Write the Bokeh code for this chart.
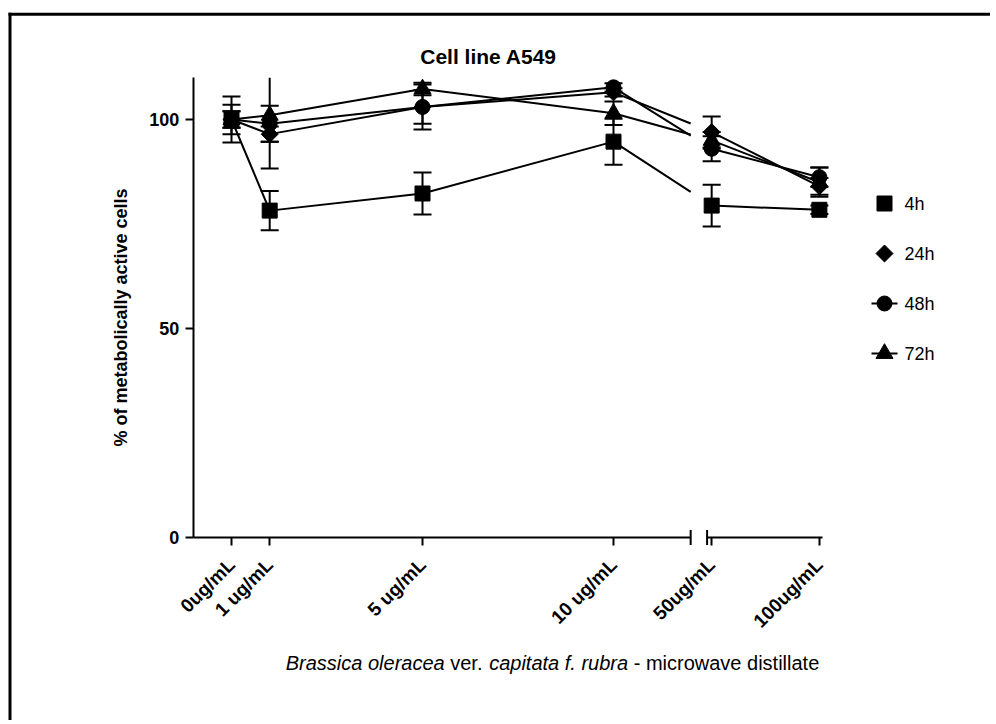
import numpy as np
from bokeh.plotting import figure
from bokeh.models import Range1d, FixedTicker, Label, LinearAxis
from bokeh.embed import file_html
from bokeh.resources import INLINE

# ---------------- data ----------------
concentrations = [0, 1, 5, 10, 50, 100]
tick_labels = ["0ug/mL", "1 ug/mL", "5 ug/mL", "10 ug/mL", "50ug/mL", "100ug/mL"]
series_names = ["4h", "24h", "48h", "72h"]
mean_4h = [100.0, 78.2, 82.3, 94.7, 79.4, 78.4]
sd_4h = [2.0, 4.7, 5.0, 5.5, 5.0, 1.0]
mean_24h = [100.0, 96.5, 103.0, 106.5, 97.0, 84.0]
sd_24h = [3.5, 1.8, 4.0, 1.0, 3.7, 2.0]
mean_48h = [100.0, 99.0, 103.0, 107.7, 93.0, 86.2]
sd_48h = [5.5, 4.3, 5.4, 1.0, 3.0, 2.3]
mean_72h = [100.0, 101.0, 107.3, 101.5, 95.0, 85.0]
sd_72h = [2.0, 12.7, 1.5, 2.8, 2.0, 3.5]
y_ticks = [0, 50, 100]

title_text = "Cell line A549"
y_title = "% of metabolically active cells"
x_title_parts = [("Brassica oleracea", "italic"), ("ver.", "normal"),
                 ("capitata f. rubra", "italic"), ("- microwave distillate", "normal")]

# ---------------- layout / scales ----------------
W, H = 990, 720
PX_X, PX_Y = 38.2, 4.18          # pixels per data unit
ORIGIN_X, ORIGIN_Y = 231, 537    # page pixel of x=0 / y=0


def dx(px):
    return (px - ORIGIN_X) / PX_X


def dy(py):
    return (ORIGIN_Y - py) / PX_Y


# broken x axis: two linear segments
AX_X0 = -1.0
BREAK_LEFT, BREAK_RIGHT = 12.02, 12.45
AX_X1 = 15.47
HIGH_FIRST, HIGH_FIRST_POS, HIGH_UNIT = 50, 12.57, 0.0564
Y_TOP = 110.0
BREAK_HALF = 1.8


def axis_pos(c):
    return c if c < HIGH_FIRST else HIGH_FIRST_POS + (c - HIGH_FIRST) * HIGH_UNIT


xpos = np.array([axis_pos(c) for c in concentrations], dtype=float)

FONT = "Liberation Sans"
INK = "black"
p = figure(width=W, height=H, output_backend="svg", toolbar_location=None,
           x_range=Range1d(dx(0), dx(W)), y_range=Range1d(dy(H), dy(0)),
           x_axis_location=None, y_axis_location=None,
           min_border_left=0, min_border_right=0, min_border_top=0, min_border_bottom=0)
p.grid.visible = False
p.outline_line_color = None
p.border_fill_color = "white"
p.background_fill_color = "white"
p.title.visible = False

# outer frame of the figure (left and top edges)
p.segment(x0=[dx(9.5), dx(8)], y0=[dy(12.2), dy(13.7)],
          x1=[dx(9.5), dx(W + 30)], y1=[dy(H + 30), dy(13.7)],
          line_color=INK, line_width=3)

# y axis
ya = LinearAxis(fixed_location=AX_X0, bounds=(0, Y_TOP), ticker=FixedTicker(ticks=y_ticks))
ya.axis_line_width = 2
ya.axis_line_color = INK
ya.major_tick_line_width = 2
ya.major_tick_line_color = INK
ya.major_tick_out = 8
ya.major_tick_in = 0
ya.minor_tick_line_color = None
ya.major_label_text_font = FONT
ya.major_label_text_font_style = "bold"
ya.major_label_text_font_size = "18px"
ya.major_label_text_color = INK
ya.major_label_standoff = 6
p.add_layout(ya, "left")

# x axis, two segments
low = xpos < BREAK_LEFT
segments = [((AX_X0, BREAK_LEFT), xpos[low], [t for t, m in zip(tick_labels, low) if m]),
            ((BREAK_RIGHT, AX_X1), xpos[~low], [t for t, m in zip(tick_labels, low) if not m])]
for bounds, ticks, labs in segments:
    xa = LinearAxis(fixed_location=0, bounds=bounds, ticker=FixedTicker(ticks=list(ticks)))
    xa.major_label_overrides = {float(x): lab for x, lab in zip(ticks, labs)}
    xa.axis_line_width = 2
    xa.axis_line_color = INK
    xa.major_tick_line_width = 2
    xa.major_tick_line_color = INK
    xa.major_tick_out = 8
    xa.major_tick_in = 0
    xa.minor_tick_line_color = None
    xa.major_label_orientation = np.pi / 4
    xa.major_label_standoff = 16
    xa.major_label_text_font = FONT
    xa.major_label_text_font_style = "bold"
    xa.major_label_text_font_size = "19px"
    xa.major_label_text_color = INK
    p.add_layout(xa, "below")

# break marks
p.segment(x0=[BREAK_LEFT, BREAK_RIGHT], y0=[BREAK_HALF, BREAK_HALF],
          x1=[BREAK_LEFT, BREAK_RIGHT], y1=[-BREAK_HALF, -BREAK_HALF],
          line_color=INK, line_width=2)

series = [
    ("4h", mean_4h, sd_4h, dict(marker="square", size=15, angle=0.0)),
    ("24h", mean_24h, sd_24h, dict(marker="square", size=12, angle=np.pi / 4)),
    ("48h", mean_48h, sd_48h, dict(marker="circle", size=15, angle=0.0)),
    ("72h", mean_72h, sd_72h, dict(marker="triangle", size=17, angle=0.0)),
]

# connecting lines, interrupted at the axis break
for name, mean, sd, mk in series:
    y = np.array(mean, dtype=float)
    left = xpos < BREAK_LEFT
    right = xpos > BREAK_RIGHT
    lx = list(xpos[left]) + [BREAK_LEFT]
    ly = list(y[left]) + [np.interp(BREAK_LEFT, xpos, y)]
    rx = [BREAK_RIGHT] + list(xpos[right])
    ry = [np.interp(BREAK_RIGHT, xpos, y)] + list(y[right])
    p.line(lx, ly, line_color=INK, line_width=2)
    p.line(rx, ry, line_color=INK, line_width=2)

# error bars (clipped at the top of the y axis)
for name, mean, sd, mk in series:
    y = np.array(mean, dtype=float)
    e = np.array(sd, dtype=float)
    up = y + e
    lo = y - e
    p.segment(x0=xpos, y0=lo, x1=xpos, y1=np.minimum(up, Y_TOP),
              line_color=INK, line_width=2)
    keep = up <= Y_TOP
    p.scatter(np.concatenate([xpos, xpos[keep]]), np.concatenate([lo, up[keep]]),
              marker="dash", size=18, line_color=INK, line_width=2)

for name, mean, sd, mk in series:
    p.scatter(xpos, mean, marker=mk["marker"], size=mk["size"], angle=mk["angle"],
              fill_color=INK, line_color=INK)

# legend (drawn as glyphs to keep the same marker shapes)
LEG_X, LEG_Y0, LEG_DY = dx(884), dy(203), 50 / PX_Y
LEG_LINE = 13 / PX_X
LEG_TEXT = dx(904)
for i, (name, mean, sd, mk) in enumerate(series):
    ly = LEG_Y0 - i * LEG_DY
    if name in ("48h", "72h"):
        p.line([LEG_X - LEG_LINE, LEG_X + LEG_LINE], [ly, ly], line_color=INK, line_width=2)
    p.scatter([LEG_X], [ly], marker=mk["marker"], size=mk["size"], angle=mk["angle"],
              fill_color=INK, line_color=INK)
    p.add_layout(Label(x=LEG_TEXT, y=ly, text=name, text_font=FONT, text_font_size="18px",
                       text_color=INK, text_align="left", text_baseline="middle"))

# texts
p.add_layout(Label(x=dx(488), y=dy(56), text=title_text, text_font=FONT,
                   text_font_style="bold", text_font_size="21px", text_color=INK,
                   text_align="center", text_baseline="middle"))
p.add_layout(Label(x=dx(120), y=dy(317), text=y_title, angle=np.pi / 2, text_font=FONT,
                   text_font_style="bold", text_font_size="18px", text_color=INK,
                   text_align="center", text_baseline="middle"))

# x title with mixed italic / normal parts (Arial-metric widths, 1/1000 em)
CW = {" ": 278, "B": 667, "r": 333, "a": 556, "s": 500, "i": 222, "c": 500, "o": 556,
      "l": 222, "e": 556, "v": 500, ".": 278, "p": 556, "t": 278, "f": 278, "u": 556,
      "b": 556, "-": 333, "m": 833, "w": 722, "d": 556}
XT_SIZE = 20
space_w = CW[" "] * XT_SIZE / 1000.0 / PX_X
widths = [sum(CW[ch] for ch in txt) * XT_SIZE / 1000.0 / PX_X for txt, _ in x_title_parts]
total = sum(widths) + space_w * (len(widths) - 1)
x_cursor = dx(552) - total / 2
for (txt, style), w in zip(x_title_parts, widths):
    p.add_layout(Label(x=x_cursor, y=dy(662), text=txt, text_font=FONT, text_font_style=style,
                       text_font_size=f"{XT_SIZE}px", text_color=INK, text_align="left",
                       text_baseline="middle"))
    x_cursor += w + space_w

open("out.html", "w").write(file_html(p, INLINE))
